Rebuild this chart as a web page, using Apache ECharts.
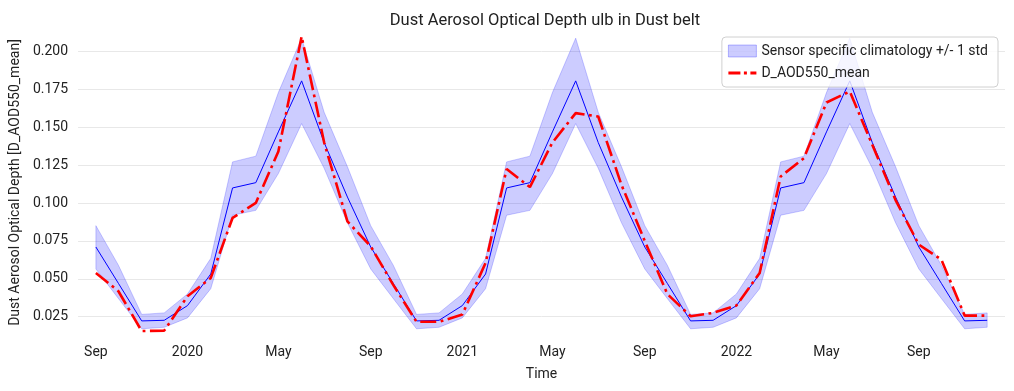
<!DOCTYPE html>
<html>
<head>
<meta charset="utf-8">
<script src="https://cdn.jsdelivr.net/npm/echarts@6/dist/echarts.min.js"></script>
<style>
html,body{margin:0;padding:0;background:#fff;}
#chart{width:1014px;height:391px;}
</style>
</head>
<body>
<div id="chart"></div>
<script>
// Monthly dates, Sep 2019 - Dec 2022
const dates = [
  '2019-09-01','2019-10-01','2019-11-01','2019-12-01',
  '2020-01-01','2020-02-01','2020-03-01','2020-04-01','2020-05-01','2020-06-01',
  '2020-07-01','2020-08-01','2020-09-01','2020-10-01','2020-11-01','2020-12-01',
  '2021-01-01','2021-02-01','2021-03-01','2021-04-01','2021-05-01','2021-06-01',
  '2021-07-01','2021-08-01','2021-09-01','2021-10-01','2021-11-01','2021-12-01',
  '2022-01-01','2022-02-01','2022-03-01','2022-04-01','2022-05-01','2022-06-01',
  '2022-07-01','2022-08-01','2022-09-01','2022-10-01','2022-11-01','2022-12-01'
];
// Sensor specific climatology (blue line)
const climMean = [
  0.0710,0.0470,0.0222,0.0226,
  0.0323,0.0532,0.1100,0.1135,0.1470,0.1807,0.1400,0.1040,
  0.0710,0.0470,0.0222,0.0226,
  0.0323,0.0532,0.1100,0.1135,0.1470,0.1807,0.1400,0.1040,
  0.0710,0.0470,0.0222,0.0226,
  0.0323,0.0532,0.1100,0.1135,0.1470,0.1807,0.1400,0.1040,
  0.0710,0.0470,0.0222,0.0226
];
// climatology + 1 std
const climUpper = [
  0.0851,0.0590,0.0265,0.0275,
  0.0400,0.0635,0.1272,0.1310,0.1730,0.2089,0.1600,0.1240,
  0.0851,0.0590,0.0265,0.0275,
  0.0400,0.0635,0.1272,0.1310,0.1730,0.2089,0.1600,0.1240,
  0.0851,0.0590,0.0265,0.0275,
  0.0400,0.0635,0.1272,0.1310,0.1730,0.2089,0.1600,0.1240,
  0.0851,0.0590,0.0265,0.0275
];
// climatology - 1 std
const climLower = [
  0.0565,0.0370,0.0170,0.0180,
  0.0242,0.0435,0.0920,0.0952,0.1195,0.1525,0.1230,0.0870,
  0.0565,0.0370,0.0170,0.0180,
  0.0242,0.0435,0.0920,0.0952,0.1195,0.1525,0.1230,0.0870,
  0.0565,0.0370,0.0170,0.0180,
  0.0242,0.0435,0.0920,0.0952,0.1195,0.1525,0.1230,0.0870,
  0.0565,0.0370,0.0170,0.0180
];
// D_AOD550_mean (red dash-dot)
const aodMean = [
  0.0539,0.0418,0.0155,0.0158,
  0.0385,0.0506,0.0902,0.1001,0.1341,0.2100,0.1400,0.0879,
  0.0715,0.0460,0.0216,0.0216,
  0.0264,0.0605,0.1225,0.1106,0.1400,0.1594,0.1572,0.1120,
  0.0750,0.0400,0.0253,0.0275,
  0.0323,0.0539,0.1176,0.1297,0.1664,0.1737,0.1385,0.1020,
  0.0726,0.0627,0.0257,0.0257
];
const xTickDates = ['2019-09-01','2020-01-01','2020-05-01','2020-09-01','2021-01-01',
  '2021-05-01','2021-09-01','2022-01-01','2022-05-01','2022-09-01'];
const yTicks = [0.025,0.050,0.075,0.100,0.125,0.150,0.175,0.200];
const monthNames = ['Jan','Feb','Mar','Apr','May','Jun','Jul','Aug','Sep','Oct','Nov','Dec'];

const bandName = 'Sensor specific climatology +/- 1 std';
const lineName = 'D_AOD550_mean';
const FONT = 'Roboto, "DejaVu Sans", sans-serif';
const TXT = '#222';
// dash-dot legend glyph (28 x 12 box)
const dashDotIcon = 'path://M0,0L28,0L28,0.01L0,0.01Z' +
  'M0,4.6L12,4.6L12,7.4L0,7.4Z' +
  'M15.5,4.6L18.5,4.6L18.5,7.4L15.5,7.4Z' +
  'M22,4.6L28,4.6L28,7.4L22,7.4Z' +
  'M0,11.99L28,11.99L28,12L0,12Z';

const ts = dates.map(d => new Date(d + 'T00:00:00').getTime());
const xTickTs = xTickDates.map(d => new Date(d + 'T00:00:00').getTime());
const span = ts[ts.length - 1] - ts[0];
const xMin = ts[0] - span * 0.02;
const xMax = ts[ts.length - 1] + span * 0.02;

const chart = echarts.init(document.getElementById('chart'), null, {renderer: 'canvas'});
chart.setOption({
  animation: false,
  backgroundColor: '#ffffff',
  textStyle: {fontFamily: FONT},
  title: {
    text: 'Dust Aerosol Optical Depth ulb in Dust belt',
    left: 540, textAlign: 'center', top: 7,
    textStyle: {fontFamily: FONT, fontSize: 16.5, fontWeight: 'normal', color: TXT}
  },
  grid: {left: 75, right: 9, top: 30, bottom: 56},
  legend: {
    orient: 'vertical',
    right: 16, top: 37,
    padding: [7, 10, 7, 6],
    itemGap: 8,
    itemWidth: 28, itemHeight: 12,
    backgroundColor: 'rgba(255,255,255,0.8)',
    borderColor: '#d0d0d0', borderWidth: 1, borderRadius: 4,
    textStyle: {fontFamily: FONT, fontSize: 14, color: TXT},
    data: [
      {name: bandName, icon: 'rect',
       itemStyle: {color: 'rgba(0,0,255,0.2)', borderColor: 'rgba(0,0,255,0.25)', borderWidth: 1}},
      {name: lineName, icon: dashDotIcon, itemStyle: {color: '#ff0000', borderWidth: 0}}
    ]
  },
  xAxis: {
    type: 'value', min: xMin, max: xMax,
    name: 'Time', nameLocation: 'middle', nameGap: 32,
    nameTextStyle: {fontFamily: FONT, fontSize: 14, color: TXT},
    axisLine: {show: false},
    axisTick: {show: false, customValues: xTickTs},
    splitLine: {show: false},
    axisLabel: {
      customValues: xTickTs,
      margin: 10,
      fontFamily: FONT, fontSize: 14, color: TXT,
      formatter: function (v) {
        const d = new Date(v);
        return d.getMonth() === 0 ? String(d.getFullYear()) : monthNames[d.getMonth()];
      }
    }
  },
  yAxis: {
    type: 'value', min: 0.0129, max: 0.2143,
    name: 'Dust Aerosol Optical Depth [D_AOD550_mean]',
    nameLocation: 'middle', nameGap: 52, nameRotate: 90,
    nameTextStyle: {fontFamily: FONT, fontSize: 14, color: TXT},
    axisLine: {show: false},
    axisTick: {show: false, customValues: yTicks},
    splitLine: {show: true, lineStyle: {color: '#e8e8e8', width: 1}},
    axisLabel: {
      customValues: yTicks,
      margin: 10,
      fontFamily: FONT, fontSize: 14, color: TXT,
      formatter: v => v.toFixed(3)
    }
  },
  series: [
    {
      name: bandName,
      type: 'custom',
      z: 1,
      itemStyle: {color: 'rgba(0,0,255,0.2)'},
      data: ts.map((t, i) => [t, climLower[i], climUpper[i]]),
      encode: {x: 0, y: [1, 2]},
      renderItem: function (params, api) {
        if (params.dataIndex !== 0) return null;
        const upper = ts.map((t, i) => api.coord([t, climUpper[i]]));
        const lower = ts.map((t, i) => api.coord([t, climLower[i]])).reverse();
        return {
          type: 'polygon',
          shape: {points: upper.concat(lower)},
          style: {fill: 'rgba(0,0,255,0.2)', stroke: 'rgba(0,0,255,0.2)', lineWidth: 1}
        };
      },
      silent: true
    },
    {
      name: 'climatology',
      type: 'line',
      z: 2,
      data: ts.map((t, i) => [t, climMean[i]]),
      showSymbol: false, symbol: 'none',
      lineStyle: {color: '#0000ff', width: 1},
      itemStyle: {color: '#0000ff'}
    },
    {
      name: lineName,
      type: 'line',
      z: 3,
      data: ts.map((t, i) => [t, aodMean[i]]),
      showSymbol: false, symbol: 'none',
      lineStyle: {color: '#ff0000', width: 2.6, type: [16, 4.5, 2.8, 4.5]},
      itemStyle: {color: '#ff0000'}
    }
  ]
});
</script>
</body>
</html>
